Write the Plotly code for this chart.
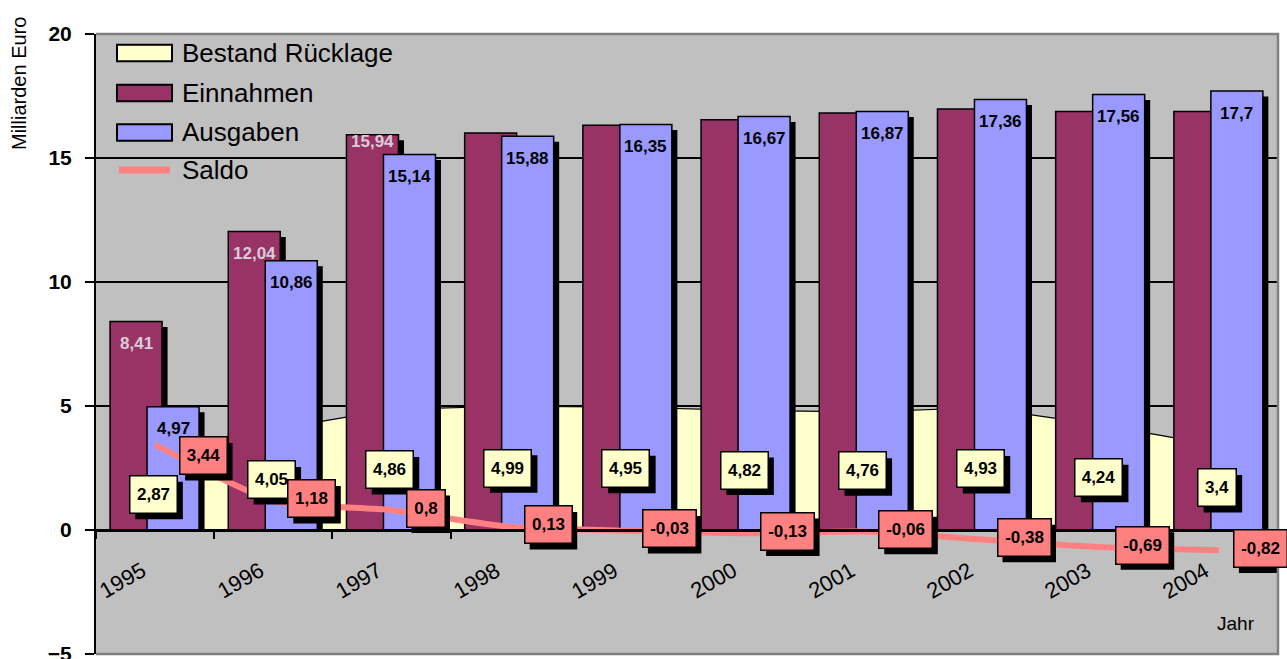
import plotly.graph_objects as go

# ---- data (Milliarden Euro) ----
years = ["1995", "1996", "1997", "1998", "1999", "2000", "2001", "2002", "2003", "2004"]
einnahmen = [8.41, 12.04, 15.94, 16.01, 16.32, 16.54, 16.81, 16.98, 16.87, 16.88]
ausgaben = [4.97, 10.86, 15.14, 15.88, 16.35, 16.67, 16.87, 17.36, 17.56, 17.70]
ruecklage = [2.87, 4.05, 4.86, 4.99, 4.95, 4.82, 4.76, 4.93, 4.24, 3.40]
saldo = [3.44, 1.18, 0.80, 0.13, -0.03, -0.13, -0.06, -0.38, -0.69, -0.82]
y_ticks = [-5, 0, 5, 10, 15, 20]

# ---- page geometry ----
W, H = 1287, 659
ML, MR, MT, MB = 96, 9, 34, 5
PW, PH = W - ML - MR, H - MT - MB
Y_MIN, Y_MAX = -5, 20
CAT_PX = PW / len(years)
UNIT_PX = PH / (Y_MAX - Y_MIN)

# bar layout in category units
BAR_W = 0.44
EIN_OFF = -0.381
AUS_OFF = -0.068
SH_PX = 5.5
SH_DX = SH_PX / CAT_PX
SH_DY = SH_PX / UNIT_PX

C_BG = "#C0C0C0"
C_EIN = "#993366"
C_AUS = "#9999FF"
C_RL = "#FFFFCC"
C_SALDO = "#FF8080"
FONT = "Arial, Liberation Sans, sans-serif"

LBL_SIZE = 17
LBL_PAD = 6
LBL_BORDER = 1.5
LBL_H = 24
LBL_SHADOW = 6
# advance widths (em) of the bold label glyphs
GLYPH_EM = {",": 0.278, "-": 0.333}


def de(v):
    s = f"{v:.2f}".rstrip("0").rstrip(".")
    return s.replace(".", ",")


def text_w(s):
    return sum(GLYPH_EM.get(c, 0.556) for c in s) * LBL_SIZE


def px_x(px):
    return (px - ML) / PW


def px_y(py):
    return (MT + PH - py) / PH


fig = go.Figure()

# Rücklage as area on the base axes, so the columns cover it
fig.add_trace(go.Scatter(
    x=years, y=ruecklage, mode="lines", fill="tozeroy",
    fillcolor=C_RL, line=dict(color="black", width=1.2),
    name="Bestand Rücklage", hoverinfo="skip", xaxis="x", yaxis="y"))

# columns with drop shadows on the overlay axes
for vals, off, col, name in [(einnahmen, EIN_OFF, C_EIN, "Einnahmen"),
                             (ausgaben, AUS_OFF, C_AUS, "Ausgaben")]:
    fig.add_trace(go.Bar(
        x=years, y=[v - SH_DY for v in vals], base=0,
        offset=off + SH_DX, width=BAR_W,
        marker=dict(color="black", line=dict(width=0)),
        hoverinfo="skip", showlegend=False, xaxis="x2", yaxis="y2"))
    fig.add_trace(go.Bar(
        x=years, y=vals, offset=off, width=BAR_W, name=name,
        marker=dict(color=col, line=dict(color="black", width=1.5)),
        xaxis="x2", yaxis="y2"))

# Saldo line above the columns
fig.add_trace(go.Scatter(
    x=years, y=saldo, mode="lines", name="Saldo",
    line=dict(color=C_SALDO, width=6, shape="spline", smoothing=0.6),
    xaxis="x2", yaxis="y2"))

ann = []
shapes = []
bold = dict(family=FONT, size=LBL_SIZE, color="black", weight="bold")

# Ausgaben values at the top of the columns
for i, v in enumerate(ausgaben):
    ann.append(dict(x=i + AUS_OFF + BAR_W / 2, y=v, yshift=-22, text=de(v),
                    showarrow=False, font=bold))

# Einnahmen values (first three years)
ein_shift = [-22, -22, -7]
for i, dy in enumerate(ein_shift):
    ann.append(dict(x=i + EIN_OFF + BAR_W / 2, y=einnahmen[i], yshift=dy,
                    text=de(einnahmen[i]), showarrow=False,
                    font=dict(family=FONT, size=LBL_SIZE, color="#D8CCD6", weight="bold")))


def boxed(x, y, text, fill, xanchor="center", xshift=0, yshift=0):
    tw = round(text_w(text)) + 1
    bw = tw + 2 * LBL_PAD + LBL_BORDER
    bh = LBL_H + 2 * LBL_PAD + LBL_BORDER
    left = xshift if xanchor == "left" else xshift - bw / 2
    # black drop shadow behind the label box
    shapes.append(dict(type="rect", xref="x", yref="y", layer="above",
                       xsizemode="pixel", ysizemode="pixel",
                       xanchor=x, yanchor=y,
                       x0=left + LBL_SHADOW, x1=left + bw + LBL_SHADOW,
                       y0=yshift - bh / 2 - LBL_SHADOW, y1=yshift + bh / 2 - LBL_SHADOW,
                       fillcolor="black", line=dict(width=0)))
    ann.append(dict(x=x, y=y, text=text, showarrow=False, xanchor=xanchor,
                    yanchor="middle", width=tw, height=LBL_H,
                    borderpad=LBL_PAD, borderwidth=LBL_BORDER,
                    xshift=xshift, yshift=yshift,
                    bgcolor=fill, bordercolor="black", font=bold))


# Rücklage labels in the middle of the area
for i, v in enumerate(ruecklage):
    boxed(i, v / 2, de(v), C_RL, xshift=-2)

# Saldo labels right of each point
for i, v in enumerate(saldo):
    if i == 0:
        boxed(i, v, de(v), C_SALDO, xanchor="left", xshift=24, yshift=-11)
    else:
        boxed(i, v, de(v), C_SALDO, xanchor="left", xshift=14, yshift=2)

# year labels, slanted below the zero line
for i, yr in enumerate(years):
    ann.append(dict(x=i, y=0, xshift=-33, yshift=-50, text=yr, textangle=-30,
                    xanchor="center", yanchor="middle", showarrow=False,
                    font=dict(family=FONT, size=22, color="black")))

# axis titles
ann.append(dict(xref="paper", yref="paper", x=px_x(18.5), y=px_y(83.5),
                xanchor="center", yanchor="middle",
                text="Milliarden Euro", textangle=-90, showarrow=False,
                font=dict(family=FONT, size=20, color="black")))
ann.append(dict(xref="paper", yref="paper", x=px_x(1236), y=px_y(623),
                xanchor="center", yanchor="middle",
                text="Jahr", showarrow=False,
                font=dict(family=FONT, size=19, color="black")))

# legend
shapes.append(dict(type="rect", xref="paper", yref="paper", layer="between",
                   x0=px_x(108), x1=px_x(305), y0=px_y(190), y1=px_y(37),
                   fillcolor=C_BG, line=dict(width=0)))
legend_rows = [("Bestand Rücklage", C_RL, 53), ("Einnahmen", C_EIN, 93),
               ("Ausgaben", C_AUS, 132.5)]
for label, col, yc in legend_rows:
    shapes.append(dict(type="rect", xref="paper", yref="paper", layer="between",
                       x0=px_x(117), x1=px_x(172), y0=px_y(yc + 8.3), y1=px_y(yc - 8.3),
                       fillcolor=col, line=dict(color="black", width=2)))
    ann.append(dict(xref="paper", yref="paper", x=px_x(180), y=px_y(yc),
                    xanchor="left", yanchor="middle", text=label, showarrow=False,
                    font=dict(family=FONT, size=26, color="black")))
shapes.append(dict(type="line", xref="paper", yref="paper", layer="between",
                   x0=px_x(119), x1=px_x(170), y0=px_y(170), y1=px_y(170),
                   line=dict(color=C_SALDO, width=7)))
ann.append(dict(xref="paper", yref="paper", x=px_x(180), y=px_y(170),
                xanchor="left", yanchor="middle", text="Saldo", showarrow=False,
                font=dict(family=FONT, size=26, color="black")))

# grey frame on top, right and bottom of the plot area
shapes.append(dict(type="path", xref="paper", yref="paper", layer="above",
                   path="M0,1 L1,1 L1,0 L0,0",
                   line=dict(color="#808080", width=2.5)))

fig.update_layout(
    width=W, height=H,
    margin=dict(l=ML, r=MR, t=MT, b=MB),
    paper_bgcolor="white", plot_bgcolor=C_BG,
    barmode="overlay", showlegend=False,
    annotations=ann, shapes=shapes,
    font=dict(family=FONT, color="black"),
    xaxis=dict(
        type="category", range=[-0.5, len(years) - 0.5],
        anchor="free", position=(0 - Y_MIN) / (Y_MAX - Y_MIN),
        showline=True, linecolor="black", linewidth=3,
        ticks="outside", ticklen=7, tickwidth=2, tickcolor="black",
        tickson="boundaries", showgrid=False, showticklabels=False,
        layer="above traces", automargin=False,
    ),
    yaxis=dict(
        range=[Y_MIN, Y_MAX], tickvals=y_ticks, zeroline=False,
        showline=True, linecolor="black", linewidth=2,
        ticks="outside", ticklen=9, tickwidth=2, tickcolor="black",
        showgrid=True, gridcolor="black", gridwidth=1.5,
        tickfont=dict(family=FONT, size=21, color="black", weight="bold"),
        ticklabelstandoff=9, ticklabeloverflow="allow", automargin=False,
    ),
    xaxis2=dict(
        type="category", range=[-0.5, len(years) - 0.5],
        overlaying="x", anchor="y2", visible=False,
    ),
    yaxis2=dict(
        range=[Y_MIN, Y_MAX], overlaying="y", anchor="x2", visible=False,
    ),
)

fig.write_html("out.html")
